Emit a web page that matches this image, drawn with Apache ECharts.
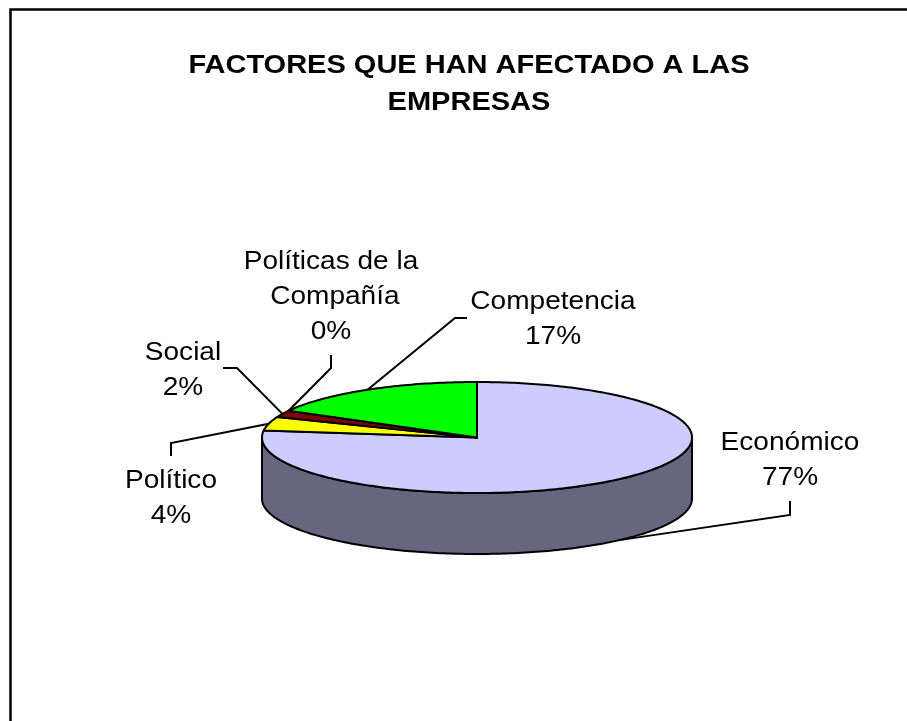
<!DOCTYPE html>
<html>
<head>
<meta charset="utf-8">
<script src="https://cdn.jsdelivr.net/npm/echarts@6/dist/echarts.min.js"></script>
<style>
  html, body { margin: 0; padding: 0; background: #fff; }
  #chart { width: 907px; height: 721px; }
</style>
</head>
<body>
<div id="chart"></div>
<script>
// Slice data, clockwise from 12 o'clock
const categories = ['Económico', 'Político', 'Social', 'Políticas de la Compañía', 'Competencia'];
const values = [77, 4, 2, 0, 17];
const topColors = ['#CCCCFF', '#FFFF00', '#800000', '#993366', '#00FF00'];
const sideColors = ['#666680', '#808000', '#400000', '#4C1933', '#008000'];

const TITLE = 'FACTORES QUE HAN AFECTADO A LAS\nEMPRESAS';

// Projected pie geometry (tilted ellipse plus wall depth)
const PIE = { cx: 477, cy: 437.5, rx: 215, ry: 55.5, depth: 61 };

// Text is drawn slightly widened, like the stretched chart it comes from
const TEXT_STRETCH = 1.1;
const FONT_FAMILY = '"Liberation Sans", Arial, sans-serif';

// Label placement: elbow point, end of leader, centre of the text block
const LABEL_LAYOUT = [
  { elbow: [790, 515], end: [790, 501], text: [790, 460] },
  { elbow: [171, 443], end: [171, 456], text: [171, 498] },
  { elbow: [237, 368], end: [223, 368], text: [183, 370] },
  { elbow: [331, 368], end: [331, 355], text: [331, 297] },
  { elbow: [455, 318], end: [467, 318], text: [553, 319] }
];

const total = values.reduce((a, b) => a + b, 0);
const cumulative = [];
values.reduce((acc, v, i) => { cumulative[i] = acc; return acc + v; }, 0);

function sliceAngles(i) {
  const t0 = 2 * Math.PI * cumulative[i] / total;
  const t1 = 2 * Math.PI * (cumulative[i] + values[i]) / total;
  return [t0, t1];
}
function rim(t, dy) {
  return [PIE.cx + PIE.rx * Math.sin(t), PIE.cy - PIE.ry * Math.cos(t) + (dy || 0)];
}
function arc(a, b, dy) {
  const pts = [];
  const n = Math.max(1, Math.ceil(Math.abs(b - a) / (Math.PI / 180)));
  for (let k = 0; k <= n; k++) pts.push(rim(a + (b - a) * k / n, dy));
  return pts;
}

const seriesData = values.map((v, i) => ({ name: categories[i], value: v }));

// Leader lines and labels (drawn beneath the pie)
function renderLabel(params, api) {
  const i = params.dataIndex;
  const [t0, t1] = sliceAngles(i);
  const mid = (t0 + t1) / 2;
  const front = Math.cos(mid) < 0;
  const anchor = rim(mid, front ? PIE.depth : 0);
  const L = LABEL_LAYOUT[i];
  const pct = Math.round(api.value(0) / total * 100) + '%';
  return {
    type: 'group',
    children: [
      {
        type: 'polyline',
        shape: { points: [anchor, L.elbow, L.end] },
        style: { stroke: '#000', lineWidth: 2, fill: null }
      },
      {
        type: 'text',
        x: L.text[0], y: L.text[1],
        scaleX: TEXT_STRETCH,
        style: {
          text: categories[i] + '\n' + pct,
          x: 0, y: 0,
          align: 'center', verticalAlign: 'middle',
          width: 180, overflow: 'break',
          font: '25.5px ' + FONT_FAMILY,
          lineHeight: 35,
          fill: '#000'
        }
      }
    ]
  };
}

// Visible front walls
function renderWall(params, api) {
  const i = params.dataIndex;
  const [t0, t1] = sliceAngles(i);
  const a = Math.max(t0, Math.PI / 2);
  const b = Math.min(t1, 3 * Math.PI / 2);
  if (!(b > a)) return { type: 'group', children: [] };
  const pts = arc(a, b, 0).concat(arc(b, a, PIE.depth));
  return {
    type: 'polygon',
    shape: { points: pts },
    style: { fill: sideColors[i], stroke: '#000', lineWidth: 2, lineJoin: 'round' }
  };
}

// Top faces
function renderTop(params, api) {
  const i = params.dataIndex;
  const [t0, t1] = sliceAngles(i);
  const pts = [[PIE.cx, PIE.cy]].concat(arc(t0, t1, 0));
  return {
    type: 'polygon',
    shape: { points: pts },
    style: { fill: topColors[i], stroke: '#000', lineWidth: 2, lineJoin: 'round' }
  };
}

const chart = echarts.init(document.getElementById('chart'), null, { renderer: 'canvas' });
chart.setOption({
  backgroundColor: '#fff',
  animation: false,
  graphic: [
    {
      type: 'text',
      x: 469, y: 84.5,
      scaleX: 1.16,
      style: {
        text: TITLE,
        x: 0, y: 0,
        align: 'center', verticalAlign: 'middle',
        font: 'bold 25px ' + FONT_FAMILY,
        lineHeight: 37,
        fill: '#000'
      }
    },
    {
      type: 'rect',
      shape: { x: 10.5, y: 9.5, width: 1000, height: 1000 },
      style: { fill: null, stroke: '#000', lineWidth: 2.5 },
      z: 100
    }
  ],
  series: [
    { type: 'custom', name: 'labels', coordinateSystem: 'none', data: seriesData, renderItem: renderLabel, z: 1, silent: true },
    { type: 'custom', name: 'walls', coordinateSystem: 'none', data: seriesData, renderItem: renderWall, z: 2, silent: true },
    { type: 'custom', name: 'tops', coordinateSystem: 'none', data: seriesData, renderItem: renderTop, z: 3, silent: true }
  ]
});
</script>
</body>
</html>
